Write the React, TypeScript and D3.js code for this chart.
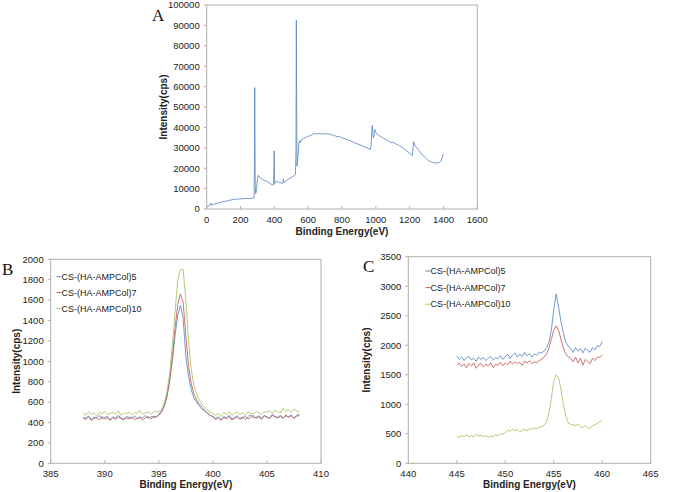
import React from "react";
import * as d3 from "d3";

// ---------- Panel A : survey spectrum ----------
const A_ENERGY = [0, 10, 20, 25, 28, 40, 60, 80, 100, 110, 130, 150, 170, 190, 210, 230, 250, 270, 280, 282, 284, 285, 287, 290, 295, 300, 305, 310, 320, 330, 340, 350, 360, 370, 380, 390, 395, 398, 399, 400, 402, 405, 410, 420, 430, 440, 450, 454, 456, 460, 470, 480, 490, 500, 510, 520, 525, 528, 530, 532, 534, 538, 542, 546, 550, 555, 560, 570, 580, 590, 600, 610, 620, 630, 640, 650, 660, 670, 680, 690, 700, 710, 720, 730, 740, 750, 760, 770, 780, 790, 800, 810, 820, 830, 840, 850, 860, 870, 880, 890, 900, 910, 920, 930, 940, 950, 960, 968, 972, 976, 979, 982, 986, 990, 994, 997, 1000, 1005, 1010, 1020, 1030, 1040, 1050, 1060, 1070, 1080, 1090, 1100, 1110, 1120, 1130, 1140, 1150, 1160, 1170, 1180, 1190, 1200, 1210, 1215, 1220, 1224, 1228, 1235, 1245, 1255, 1265, 1275, 1285, 1295, 1305, 1315, 1325, 1335, 1345, 1355, 1365, 1375, 1385, 1392, 1396, 1400];
const A_COUNTS = [1200, 1500, 2000, 3000, 1900, 2300, 2700, 3200, 3800, 3700, 4200, 4500, 4800, 4900, 5000, 5200, 5100, 5300, 5400, 20000, 59500, 40000, 12000, 7500, 10000, 14500, 16500, 16000, 15000, 14500, 14000, 13800, 13300, 12800, 12200, 11800, 11700, 20000, 28500, 18000, 12500, 13200, 13600, 13400, 13000, 12800, 12600, 14800, 13200, 13000, 13800, 14500, 15000, 15500, 16000, 16500, 17000, 30000, 92500, 50000, 21000, 24000, 28000, 33000, 33500, 32500, 34000, 34500, 35000, 35200, 35600, 36000, 36300, 36800, 37000, 36700, 37100, 36800, 37000, 36600, 37000, 36700, 36900, 36500, 36400, 36000, 35900, 35500, 35600, 35200, 35000, 34600, 34400, 34000, 33600, 33500, 33000, 32700, 32200, 32000, 31600, 31300, 31000, 30500, 30200, 30000, 29500, 29000, 31000, 38000, 41000, 37000, 35000, 36500, 39000, 38000, 37500, 36800, 36500, 36000, 35500, 35000, 34500, 34000, 33500, 33000, 32500, 32600, 32300, 31800, 31500, 31000, 30500, 30000, 29300, 28600, 28000, 27200, 26500, 26200, 30000, 33000, 32000, 30500, 29800, 28500, 27500, 26500, 25800, 25000, 24200, 23600, 23200, 22900, 22600, 22700, 22500, 22800, 23500, 25000, 26500, 27000];
const A_XTICKS = [0, 200, 400, 600, 800, 1000, 1200, 1400, 1600];
const A_YTICKS = [0, 10000, 20000, 30000, 40000, 50000, 60000, 70000, 80000, 90000, 100000];

// ---------- Panel B : N1s region (388 - 408 eV, step 0.25) ----------
const B_ENERGY_START = 388;
const B_ENERGY_STEP = 0.25;
const B_SERIES_5 = [450, 440, 465, 430, 455, 445, 470, 435, 450, 460, 425, 455, 440, 470, 445, 430, 460, 450, 440, 465, 435, 455, 445, 470, 440, 455, 460, 450,
  480, 510, 560, 650, 800, 1000, 1250, 1450, 1550, 1420, 1050, 850, 720, 640, 600, 560, 530, 510, 490, 470, 460,
  440, 455, 430, 460, 445, 470, 435, 450, 465, 440, 455, 430, 460, 475, 445, 450, 465, 440, 470, 455, 445, 480, 460, 450, 470, 445, 465, 455, 475, 440, 460, 470];
const B_SERIES_7 = [445, 430, 455, 420, 440, 450, 425, 460, 435, 445, 420, 450, 430, 455, 440, 425, 445, 435, 455, 430, 440, 450, 425, 445, 460, 435, 450, 455,
  470, 500, 560, 660, 820, 1050, 1320, 1560, 1660, 1580, 1250, 950, 780, 680, 620, 580, 550, 520, 490, 470, 455,
  430, 445, 420, 450, 435, 460, 425, 440, 455, 430, 445, 460, 435, 450, 470, 440, 455, 430, 465, 450, 440, 470, 455, 445, 460, 440, 475, 450, 465, 445, 470, 480];
const B_SERIES_10 = [490, 475, 505, 480, 495, 470, 500, 485, 510, 475, 490, 500, 480, 515, 470, 495, 485, 505, 475, 500, 490, 520, 480, 495, 505, 485, 500, 510,
  500, 530, 590, 700, 880, 1150, 1480, 1800, 1900, 1900, 1600, 1200, 920, 760, 680, 620, 580, 550, 520, 500, 490,
  470, 490, 460, 495, 480, 505, 470, 490, 500, 480, 495, 470, 505, 490, 485, 510, 495, 480, 505, 500, 515, 490, 520, 505, 495, 540, 510, 525, 500, 530, 515, 505];
const B_XTICKS = [385, 390, 395, 400, 405, 410];
const B_YTICKS = [0, 200, 400, 600, 800, 1000, 1200, 1400, 1600, 1800, 2000];

// ---------- Panel C : Ti2p region (445 - 460 eV, step 0.25) ----------
const C_ENERGY_START = 445;
const C_ENERGY_STEP = 0.25;
const C_SERIES_5 = [1820, 1760, 1800, 1740, 1790, 1810, 1750, 1780, 1730, 1800, 1760, 1790, 1740, 1780, 1810, 1750, 1790, 1770, 1820, 1760,
  1800, 1850, 1780, 1830, 1870, 1800, 1850, 1810, 1880, 1820, 1860, 1800, 1850, 1830, 1880, 1870,
  1900, 1950, 2050, 2250, 2600, 2870, 2650, 2400, 2200, 2050, 1980, 1950,
  1880, 1960, 1900, 1940, 1870, 1950, 1910, 1880, 1960, 1920, 1990, 1980, 2060];
const C_SERIES_7 = [1660, 1700, 1640, 1680, 1620, 1690, 1650, 1700, 1610, 1670, 1690, 1630, 1680, 1650, 1700, 1620, 1680, 1660, 1710, 1650,
  1700, 1670, 1730, 1680, 1720, 1690, 1710, 1660, 1730, 1700, 1740, 1690, 1720, 1700, 1740, 1760,
  1800, 1850, 1950, 2100, 2250, 2330, 2250, 2100, 1950, 1850, 1800, 1780,
  1720, 1800, 1700, 1780, 1660, 1760, 1720, 1690, 1780, 1740, 1800, 1790, 1840];
const C_SERIES_10 = [460, 440, 470, 455, 480, 450, 470, 445, 490, 460, 475, 450, 470, 440, 460, 450, 480, 470, 500, 490,
  520, 560, 540, 580, 550, 570, 530, 560, 580, 550, 590, 570, 600, 580, 610, 620,
  640, 700, 850, 1100, 1400, 1500, 1450, 1250, 1000, 800, 680, 660,
  650, 640, 660, 620, 610, 640, 600, 590, 640, 650, 680, 700, 740];
const C_XTICKS = [440, 445, 450, 455, 460, 465];
const C_YTICKS = [0, 500, 1000, 1500, 2000, 2500, 3000, 3500];

const LEGEND_LABELS = ["CS-(HA-AMPCol)5", "CS-(HA-AMPCol)7", "CS-(HA-AMPCol)10"];
const COLORS = ["#5a88c2", "#c55a57", "#a3c266"];

const X_TITLE = "Binding Energy(eV)";
const Y_TITLE = "Intensity(cps)";

const AXIS = "#b0b0b0";
const TXT = "#222";
const SANS = "'Liberation Sans', Arial, sans-serif";
const SERIF = "'Liberation Serif', 'DejaVu Serif', serif";

type Series = { x: number[]; y: number[]; color: string };

type PanelProps = {
  left: number; right: number; top: number; bottom: number;
  xDomain: [number, number]; yDomain: [number, number];
  xTicks: number[]; yTicks: number[];
  series: Series[];
  label: string; labelX: number; labelY: number;
  yTitleX: number; xTitleY: number;
  legend?: { x: number; y: number; dy: number };
};

function Panel(p: PanelProps) {
  const xs = d3.scaleLinear().domain(p.xDomain).range([p.left, p.right]);
  const ys = d3.scaleLinear().domain(p.yDomain).range([p.bottom, p.top]);
  const line = d3.line<[number, number]>().x((d) => xs(d[0])).y((d) => ys(d[1]));
  return (
    <g>
      <rect x={p.left} y={p.top} width={p.right - p.left} height={p.bottom - p.top} fill="none" stroke={AXIS} strokeWidth={1} />
      {p.yTicks.map((t) => (
        <g key={"y" + t}>
          <line x1={p.left - 3} x2={p.left} y1={ys(t)} y2={ys(t)} stroke={AXIS} />
          <text x={p.left - 7} y={ys(t) + 3.3} textAnchor="end" fontSize={9.5} fontFamily={SANS} fill={TXT}>{t}</text>
        </g>
      ))}
      {p.xTicks.map((t) => (
        <g key={"x" + t}>
          <line x1={xs(t)} x2={xs(t)} y1={p.bottom} y2={p.bottom - 3} stroke={AXIS} />
          <text x={xs(t)} y={p.bottom + 14} textAnchor="middle" fontSize={9.5} fontFamily={SANS} fill={TXT}>{t}</text>
        </g>
      ))}
      {p.series.map((s, i) => (
        <path key={"s" + i} d={line(s.x.map((v, j) => [v, s.y[j]] as [number, number])) || ""} fill="none" stroke={s.color} strokeWidth={0.85} strokeLinejoin="round" />
      ))}
      <text x={(p.left + p.right) / 2} y={p.xTitleY} textAnchor="middle" fontSize={10} fontWeight="bold" fontFamily={SANS} fill={TXT}>{X_TITLE}</text>
      <text transform={`translate(${p.yTitleX},${(p.top + p.bottom) / 2}) rotate(-90)`} textAnchor="middle" fontSize={10} fontWeight="bold" fontFamily={SANS} fill={TXT}>{Y_TITLE}</text>
      <text x={p.labelX} y={p.labelY} fontSize={17} fontFamily={SERIF} fill="#111">{p.label}</text>
      {p.legend && p.series.map((s, i) => (
        <g key={"l" + i}>
          <line x1={p.legend!.x} x2={p.legend!.x + 5} y1={p.legend!.y + i * p.legend!.dy} y2={p.legend!.y + i * p.legend!.dy} stroke={s.color} />
          <text x={p.legend!.x + 5} y={p.legend!.y + i * p.legend!.dy + 3.2} fontSize={9} fontFamily={SANS} fill={TXT}>{LEGEND_LABELS[i]}</text>
        </g>
      ))}
    </g>
  );
}

export default function App() {
  const bX = B_SERIES_5.map((_, i) => B_ENERGY_START + i * B_ENERGY_STEP);
  const cX = C_SERIES_5.map((_, i) => C_ENERGY_START + i * C_ENERGY_STEP);
  return (
    <svg width={685} height={492} style={{ position: "absolute", left: 0, top: 0, background: "#fff" }}>
      <rect width={685} height={492} fill="#fff" />
      <Panel left={206.7} right={477.3} top={5} bottom={209}
        xDomain={[0, 1600]} yDomain={[0, 100000]} xTicks={A_XTICKS} yTicks={A_YTICKS}
        series={[{ x: A_ENERGY, y: A_COUNTS, color: COLORS[0] }]}
        label="A" labelX={152} labelY={21} yTitleX={166.5} xTitleY={235} />
      <Panel left={50.7} right={321} top={259.3} bottom={463.3}
        xDomain={[385, 410]} yDomain={[0, 2000]} xTicks={B_XTICKS} yTicks={B_YTICKS}
        series={[{ x: bX, y: B_SERIES_5, color: COLORS[0] }, { x: bX, y: B_SERIES_7, color: COLORS[1] }, { x: bX, y: B_SERIES_10, color: COLORS[2] }]}
        label="B" labelX={2} labelY={275} yTitleX={19.5} xTitleY={488}
        legend={{ x: 56.5, y: 276.7, dy: 15.8 }} />
      <Panel left={408.3} right={650.7} top={256.7} bottom={463.3}
        xDomain={[440, 465]} yDomain={[0, 3500]} xTicks={C_XTICKS} yTicks={C_YTICKS}
        series={[{ x: cX, y: C_SERIES_5, color: COLORS[0] }, { x: cX, y: C_SERIES_7, color: COLORS[1] }, { x: cX, y: C_SERIES_10, color: COLORS[2] }]}
        label="C" labelX={363} labelY={272} yTitleX={370} xTitleY={488}
        legend={{ x: 425.5, y: 271, dy: 16.6 }} />
    </svg>
  );
}
